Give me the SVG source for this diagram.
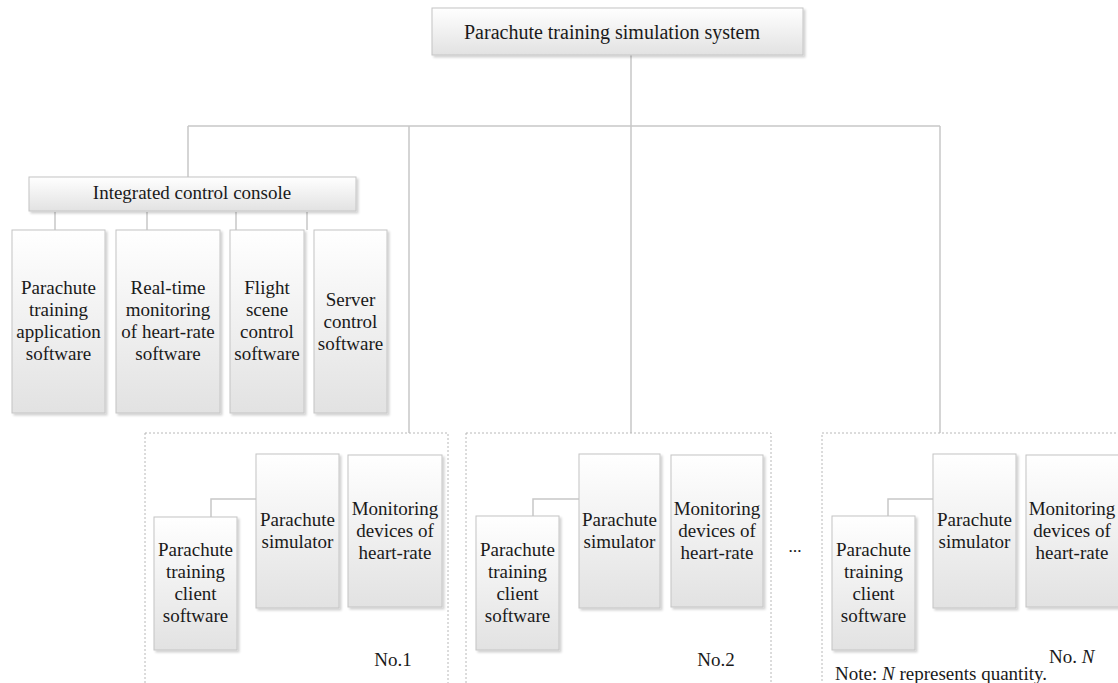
<svg xmlns="http://www.w3.org/2000/svg" width="1118" height="683" viewBox="0 0 1118 683">
<defs>
<linearGradient id="g" x1="0" y1="0" x2="0" y2="1">
<stop offset="0" stop-color="#ffffff"/>
<stop offset="1" stop-color="#e2e2e2"/>
</linearGradient>
<filter id="sh" x="-10%" y="-10%" width="130%" height="130%">
<feDropShadow dx="2" dy="2" stdDeviation="1" flood-color="#000" flood-opacity="0.18"/>
</filter>
</defs>
<style>
.b{fill:url(#g);stroke:#c4c4c4;stroke-width:1;filter:url(#sh)}
.d{fill:none;stroke:#b8b8b8;stroke-width:1;stroke-dasharray:2 2}
.c{fill:none;stroke:#c8c8c8;stroke-width:1.5}
text{font-family:"Liberation Serif","Times New Roman",serif;font-size:19px;fill:#1a1a1a;text-anchor:middle}
.t{font-size:20px}
.l{text-anchor:start}
</style>
<rect width="1118" height="683" fill="#fff"/>

<g id="connectors">
<path class="c" d="M631 55V126M188 126H940M188 126V177M409 126V433M631 126V433M940 126V433"/>
<path class="c" d="M55 212V230M147 212V230M236 212V230M307 212V230"/>
<path class="c" d="M211 517V499H256M533 516V499H579M888 516V499H934"/>
</g>

<g id="root">
<rect class="b" x="432" y="8" width="371" height="47"/>
<text class="t" x="612" y="39">Parachute training simulation system</text>
</g>

<g id="console">
<rect class="b" x="29" y="177" width="327" height="34"/>
<text x="192" y="199">Integrated control console</text>
</g>

<g id="app-software">
<rect class="b" x="12" y="230" width="93" height="183"/>
<text x="58.5" y="294">Parachute</text><text x="58.5" y="316">training</text><text x="58.5" y="338">application</text><text x="58.5" y="360">software</text>
</g>
<g id="hr-software">
<rect class="b" x="116" y="230" width="104" height="183"/>
<text x="168" y="294">Real-time</text><text x="168" y="316">monitoring</text><text x="168" y="338">of heart-rate</text><text x="168" y="360">software</text>
</g>
<g id="flight-software">
<rect class="b" x="230" y="230" width="74" height="183"/>
<text x="267" y="294">Flight</text><text x="267" y="316">scene</text><text x="267" y="338">control</text><text x="267" y="360">software</text>
</g>
<g id="server-software">
<rect class="b" x="314" y="230" width="73" height="183"/>
<text x="350.5" y="306">Server</text><text x="350.5" y="328">control</text><text x="350.5" y="350">software</text>
</g>

<g id="group1">
<rect class="d" x="145" y="433" width="303" height="270"/>
<rect class="b" x="154" y="517" width="83" height="133"/>
<text x="195.5" y="556">Parachute</text><text x="195.5" y="578">training</text><text x="195.5" y="600">client</text><text x="195.5" y="622">software</text>
<rect class="b" x="256" y="454" width="83" height="154"/>
<text x="297.5" y="526">Parachute</text><text x="297.5" y="548">simulator</text>
<rect class="b" x="348" y="455" width="94" height="152"/>
<text x="395" y="515">Monitoring</text><text x="395" y="537">devices of</text><text x="395" y="559">heart-rate</text>
<text x="393" y="666">No.1</text>
</g>

<g id="group2">
<rect class="d" x="466" y="433" width="305" height="270"/>
<rect class="b" x="476" y="516" width="83" height="134"/>
<text x="517.5" y="556">Parachute</text><text x="517.5" y="578">training</text><text x="517.5" y="600">client</text><text x="517.5" y="622">software</text>
<rect class="b" x="579" y="454" width="81" height="154"/>
<text x="619.5" y="526">Parachute</text><text x="619.5" y="548">simulator</text>
<rect class="b" x="671" y="455" width="92" height="152"/>
<text x="717" y="515">Monitoring</text><text x="717" y="537">devices of</text><text x="717" y="559">heart-rate</text>
<text x="716" y="666">No.2</text>
</g>

<text x="795" y="552" style="font-size:13px;font-weight:bold">…</text>

<g id="groupN">
<rect class="d" x="822" y="433" width="320" height="270"/>
<rect class="b" x="832" y="516" width="83" height="134"/>
<text x="873.5" y="556">Parachute</text><text x="873.5" y="578">training</text><text x="873.5" y="600">client</text><text x="873.5" y="622">software</text>
<rect class="b" x="933" y="454" width="83" height="154"/>
<text x="974.5" y="526">Parachute</text><text x="974.5" y="548">simulator</text>
<rect class="b" x="1026" y="455" width="96" height="152"/>
<text x="1072" y="515">Monitoring</text><text x="1072" y="537">devices of</text><text x="1072" y="559">heart-rate</text>
<text class="l" x="1049" y="663">No. <tspan font-style="italic">N</tspan></text>
<text class="l" x="835" y="680">Note: <tspan font-style="italic">N</tspan> represents quantity.</text>
</g>
</svg>
